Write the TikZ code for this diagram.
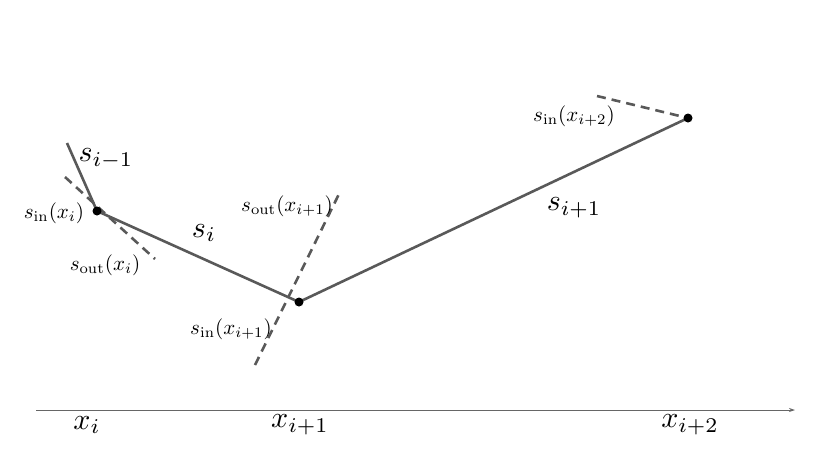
\documentclass[tikz,border=0pt]{standalone}
\usepackage{amsmath}
\usetikzlibrary{arrows.meta}
\newcommand{\smlab}[1]{\scalebox{2.1}{$#1$}}
\newcommand{\biglab}[1]{\scalebox{3.0}{$#1$}}
\begin{document}
\begin{tikzpicture}[x=1pt,y=-1pt,
 seg/.style={draw=black!65, line width=2.6pt},
 tang/.style={draw=black!65, line width=2.6pt, dash pattern=on 9pt off 6pt},
 dotnode/.style={circle, fill=black, inner sep=0pt, minimum size=9pt},
 lbl/.style={inner sep=0pt},
 axisline/.style={draw=black!60, line width=0.8pt, -{Stealth[length=6pt,width=4pt]}}]
\useasboundingbox (0,0) rectangle (830,467);
% key points
\coordinate (c1) at (97,211);
\coordinate (c2) at (299,302);
\coordinate (c3) at (688,118);
\coordinate (prev) at (67,143);
\coordinate (t1a) at (65,177);
\coordinate (t1b) at (155,259);
\coordinate (t2a) at (255,365);
\coordinate (t2b) at (339,194);
\coordinate (t3a) at (597,96);
% tangents
\draw[tang] (t1a) -- (t1b);
\draw[tang] (t2a) -- (t2b);
\draw[tang] (t3a) -- (c3);
% segments
\draw[seg] (prev) -- (c1) -- (c2) -- (c3);
% dots
\node[dotnode] (d1) at (c1) {};
\node[dotnode] (d2) at (c2) {};
\node[dotnode] (d3) at (c3) {};
% labels
\node[lbl] (lsim1) at (106,159) {\biglab{s_{i-1}}};
\node[lbl] (lsi) at (204,233) {\biglab{s_{i}}};
\node[lbl] (lsip1) at (574,208) {\biglab{s_{i+1}}};
\node[lbl] (lin1) at (54,213) {\smlab{s_{\mathrm{in}}(x_i)}};
\node[lbl] (lout1) at (105,265) {\smlab{s_{\mathrm{out}}(x_i)}};
\node[lbl] (lout2) at (287,206) {\smlab{s_{\mathrm{out}}(x_{i+1})}};
\node[lbl] (lin2) at (231,329) {\smlab{s_{\mathrm{in}}(x_{i+1})}};
\node[lbl] (lin3) at (574,116) {\smlab{s_{\mathrm{in}}(x_{i+2})}};
% axis
\coordinate (ax0) at (36,410);
\coordinate (ax1) at (795,410);
\draw[axisline] (ax0) -- (ax1);
\node[lbl] (lx1) at (87,425) {\biglab{x_i}};
\node[lbl] (lx2) at (300,425) {\biglab{x_{i+1}}};
\node[lbl] (lx3) at (690,425) {\biglab{x_{i+2}}};
\end{tikzpicture}
\end{document}
